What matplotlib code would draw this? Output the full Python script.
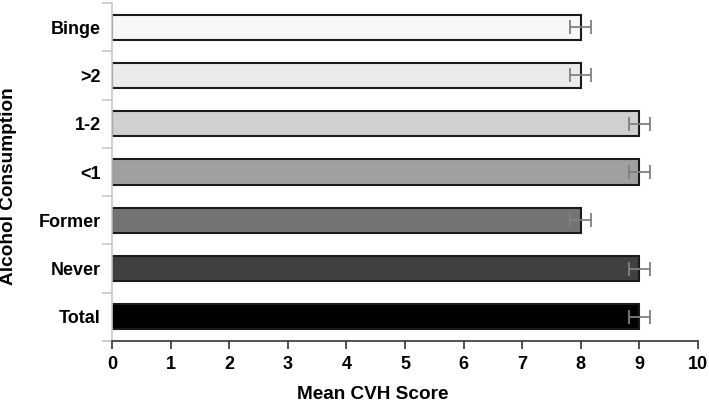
import numpy as np
import matplotlib.pyplot as plt

plt.rcParams['font.family'] = ['Liberation Sans', 'DejaVu Sans']

# bottom to top
groups = ["Total", "Never", "Former", "<1", "1-2", ">2", "Binge"]
means = [9, 9, 8, 9, 9, 8, 8]
errs = [0.18, 0.18, 0.18, 0.18, 0.18, 0.18, 0.18]
colors = ["#000000", "#404040", "#737373", "#a0a0a0", "#d0d0d0", "#ebebeb", "#f8f8f8"]

fig = plt.figure(figsize=(7.09, 4.04), dpi=100)
ax = fig.add_axes([0.158, 0.156, 0.8265, 0.8365])

y = np.arange(len(groups))
ax.barh(y, means, height=0.52, color=colors, edgecolor="#1a1a1a", linewidth=1.5, zorder=2)
ax.errorbar(means, y, xerr=errs, fmt="none", ecolor="#808080", elinewidth=1.3,
            capsize=5, capthick=1.3, zorder=3)

ax.set_xlim(0, 10)
ax.set_ylim(-0.5, len(groups) - 0.5)
ax.set_xticks(range(0, 11))
ax.set_yticks(y)
ax.set_yticklabels(groups)
ax.set_yticks(np.arange(-0.5, len(groups), 1), minor=True)

ax.tick_params(axis="y", which="major", length=0, pad=8, labelsize=13)
ax.tick_params(axis="y", which="minor", length=7, color="#c8c8c8", width=1.2)
ax.tick_params(axis="x", length=6, width=1.2, color="#333333", labelsize=13, pad=5)
for lab in ax.get_xticklabels() + ax.get_yticklabels():
    lab.set_fontweight("bold")

ax.spines["top"].set_visible(False)
ax.spines["right"].set_visible(False)
ax.spines["left"].set_color("#c8c8c8")
ax.spines["left"].set_linewidth(1.2)
ax.spines["bottom"].set_color("#333333")
ax.spines["bottom"].set_linewidth(1.2)

ax.set_xlabel("Mean CVH Score", fontsize=13.7, fontweight="bold")
ax.set_ylabel("Alcohol Consumption", fontsize=13.7, fontweight="bold")
ax.xaxis.set_label_coords(0.445, -0.132)
ax.yaxis.set_label_coords(-0.162, 0.459)

fig.savefig("out.png", dpi=100)
